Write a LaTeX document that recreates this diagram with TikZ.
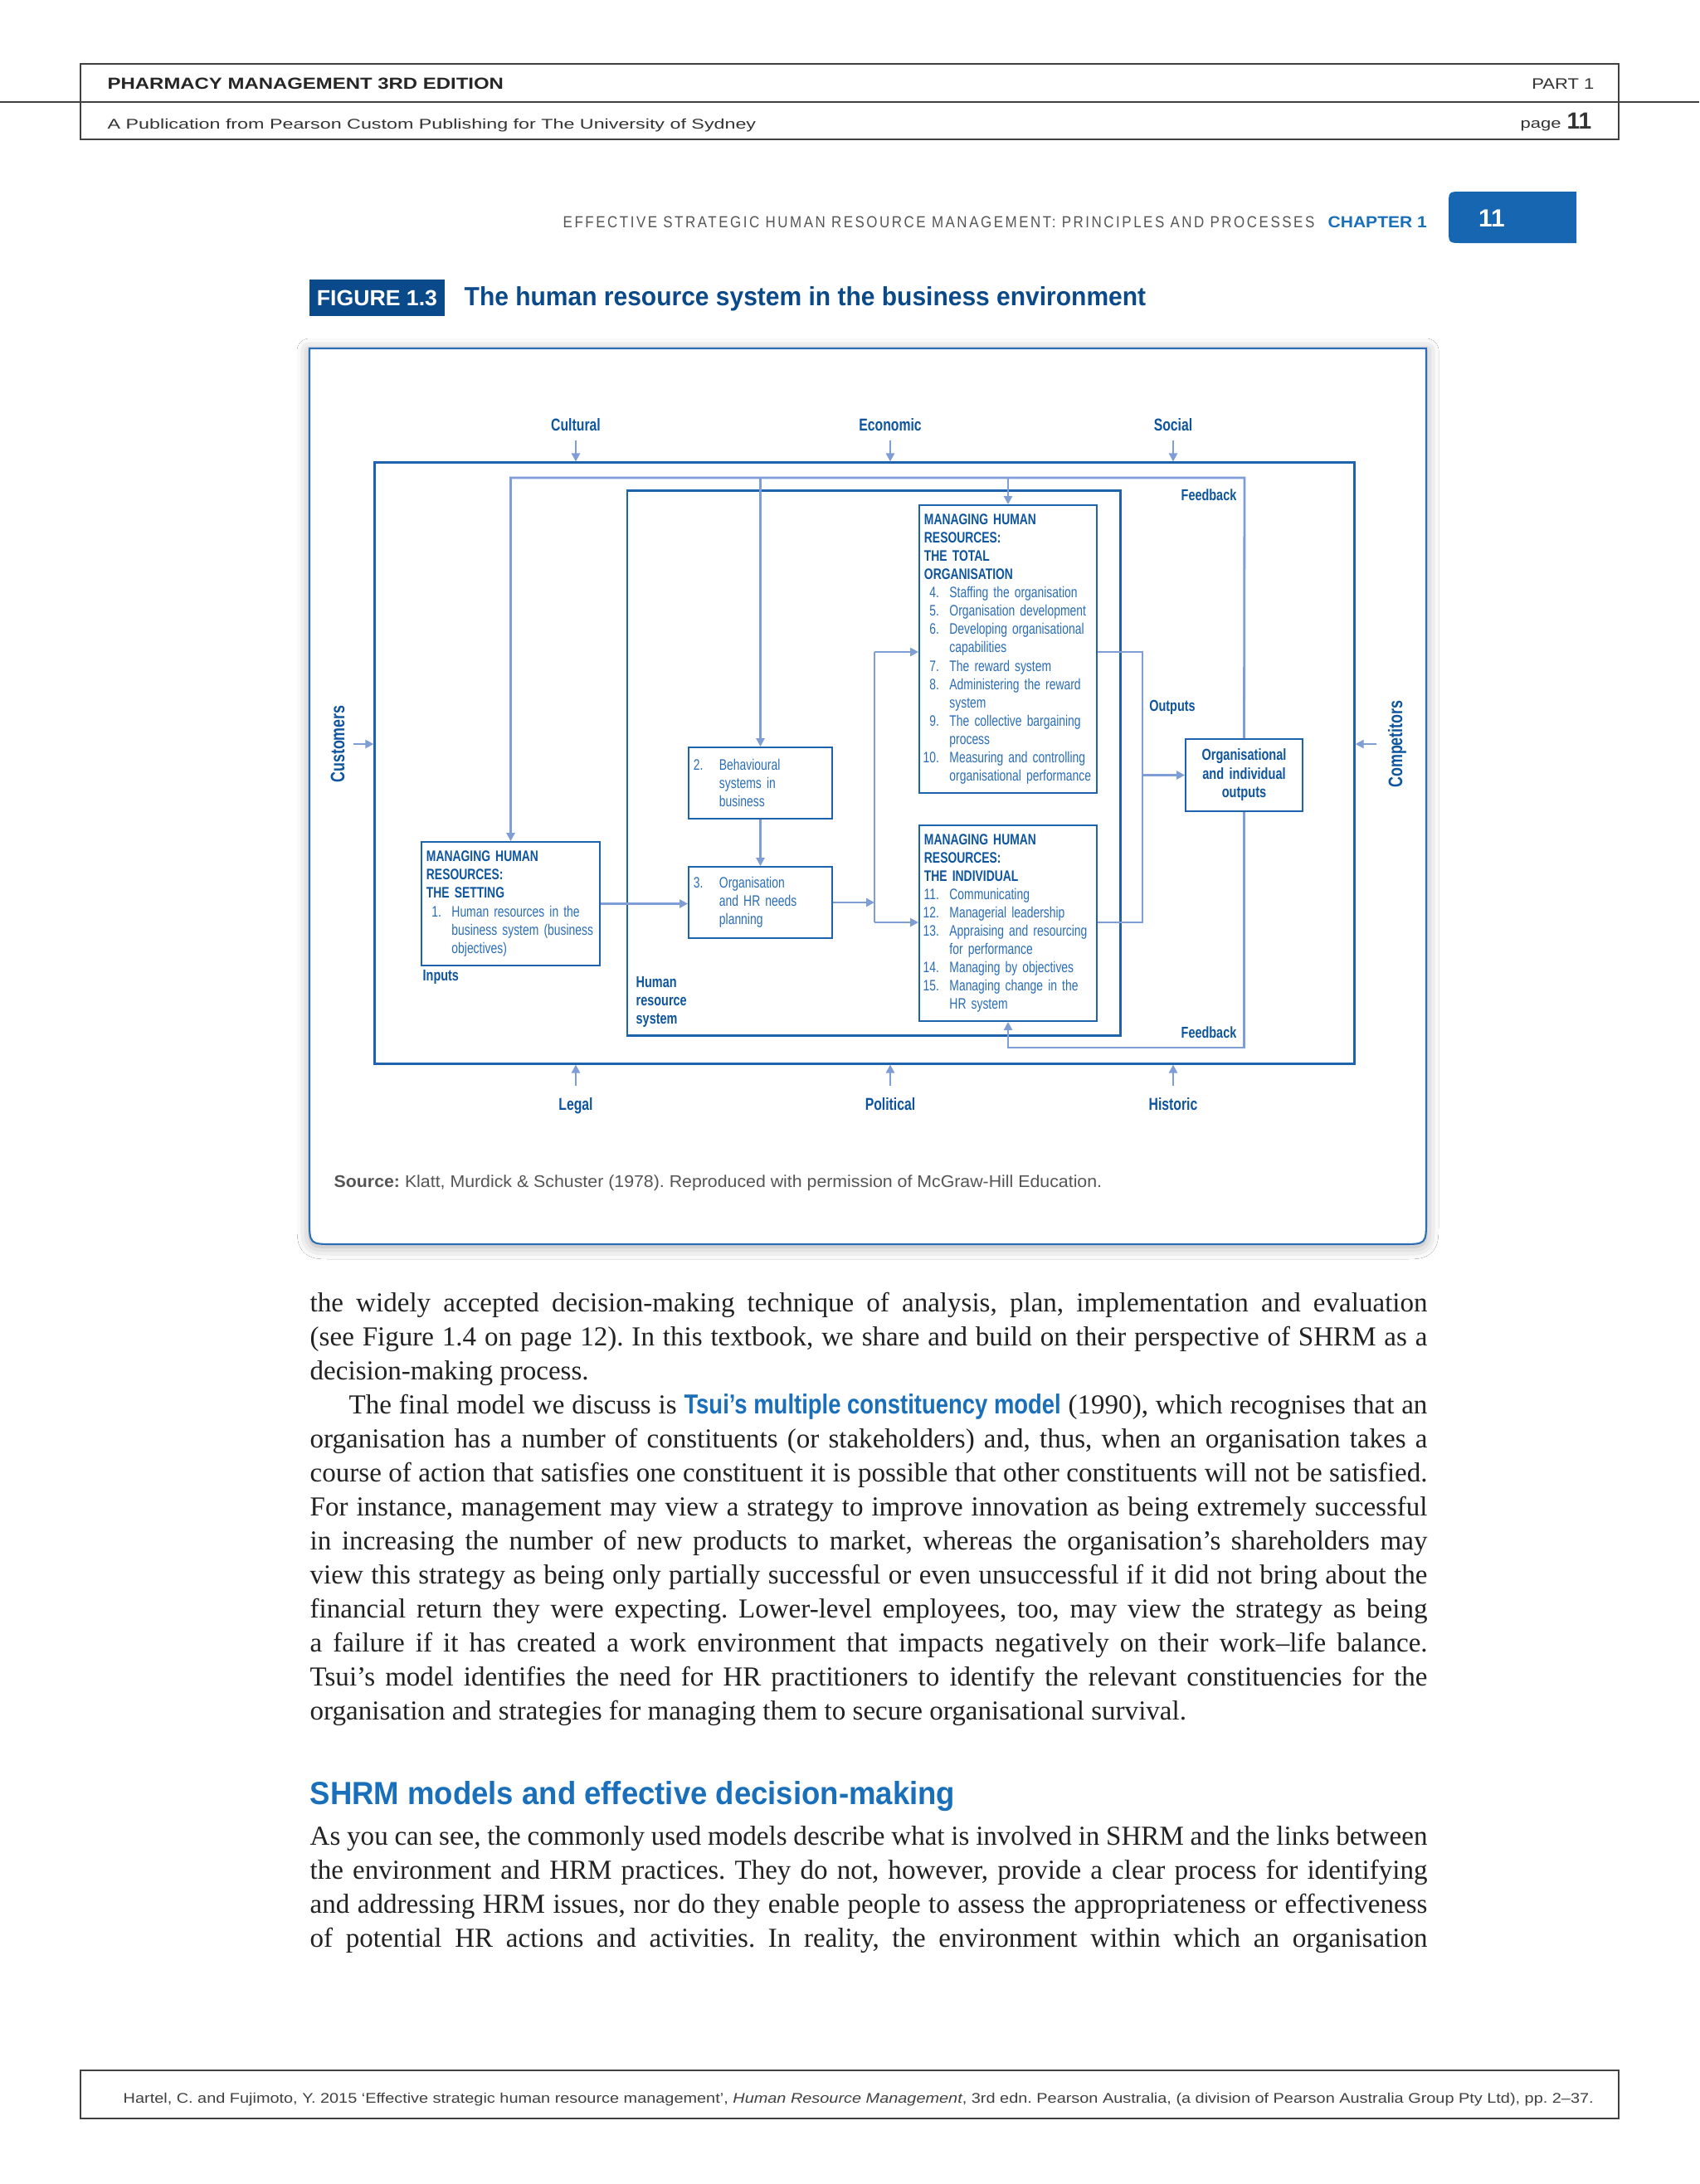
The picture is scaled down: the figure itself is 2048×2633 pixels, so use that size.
\documentclass[tikz,border=0pt]{standalone}
\usepackage{fontspec}
\usepackage{graphicx}
\usetikzlibrary{arrows.meta,shadows.blur}
\setmainfont{Liberation Serif}[WordSpace={1,1,2}]
\newfontfamily\hfont{Liberation Sans}
\newfontfamily\dfont{Liberation Sans}[FakeStretch=0.76]
\newfontfamily\lsfont{Liberation Sans}[FakeStretch=0.8,LetterSpace=12]

\definecolor{boxblue}{HTML}{1E63AE}
\definecolor{arrowblue}{HTML}{7F9ED6}
\definecolor{titleblue}{HTML}{0E559E}
\definecolor{itemblue}{HTML}{2A6DB6}
\definecolor{frameblue}{HTML}{2C6EB5}
\definecolor{tabblue}{HTML}{1666B1}
\definecolor{figblue}{HTML}{0B4A8A}
\definecolor{headblue}{HTML}{1A6FBA}
\definecolor{greytext}{HTML}{555555}
\definecolor{bodyblack}{HTML}{222222}

\newcommand{\fitw}[2]{\resizebox{#1}{\height}{#2}}
\newcommand{\ttl}[1]{\textcolor{titleblue}{\bfseries #1}}
\newcommand{\itm}[1]{\makebox[0.18cm][r]{#1}\hspace{0.125cm}}
\newcommand{\itl}[1]{\makebox[0.31cm][l]{#1}}

\tolerance=10000
\hyphenpenalty=10000
\exhyphenpenalty=10000
\frenchspacing

\tikzset{
  hrbox/.style={draw=boxblue, line width=0.5pt, fill=white, inner xsep=0.06cm, inner ysep=0pt,
    align=left, text=itemblue, font=\dfont\fontsize{5.2}{6.26}\selectfont},
  envbox/.style={draw=boxblue, line width=0.75pt, inner sep=0pt},
  fb/.style={draw=arrowblue, line width=0.8pt},
  tohead/.style={-{Triangle[length=0.1cm,width=0.1cm]}},
  envlbl/.style={inner sep=0pt, text=titleblue, text height=1.6mm, text depth=0.4mm,
    font=\dfont\bfseries\fontsize{5.9}{7}\selectfont},
  sidelbl/.style={inner sep=0pt, rotate=90, text=titleblue, text height=1.8mm, text depth=0mm,
    font=\dfont\bfseries\fontsize{6.7}{8}\selectfont},
  lbl/.style={inner sep=0pt, text=titleblue, align=left, font=\dfont\bfseries\fontsize{5.4}{6.26}\selectfont},
  bodytxt/.style={inner sep=0pt, text width=13.46cm, align=justify, text=bodyblack,
    font=\fontsize{9.4}{11.67}\selectfont},
  hdrline/.style={draw=black!75, line width=0.45pt},
}

\begin{document}
\begin{tikzpicture}[x=0.01cm,y=-0.01cm]
\fill[white] (0,0) rectangle (2048,2633);
\useasboundingbox (0,0) rectangle (2048,2633);

% running head
\draw[hdrline] (97,77) rectangle (1951,168);
\draw[hdrline] (0,123) -- (2048,123);
\node[inner sep=0pt, anchor=base west, text=black!85] (book) at (129,107)
  {\fitw{4.77cm}{\hfont\bfseries\fontsize{5.5}{6}\selectfont PHARMACY MANAGEMENT 3RD EDITION}};
\node[inner sep=0pt, anchor=base east, text=black!80] (part) at (1922,107)
  {\fitw{0.75cm}{\hfont\fontsize{5.2}{6}\selectfont PART 1}};
\node[inner sep=0pt, anchor=base west, text=black!80] (publ) at (129,155)
  {\fitw{7.81cm}{\hfont\fontsize{4.8}{6}\selectfont A Publication from Pearson Custom Publishing for The University of Sydney}};
\node[inner sep=0pt, anchor=base east, text=black!80] (pageno) at (1919,155)
  {\fitw{0.49cm}{\hfont\fontsize{4.8}{6}\selectfont page}\hspace{0.07cm}{\hfont\bfseries\fontsize{8}{9}\selectfont 11}};

% chapter line
\node[inner sep=0pt, anchor=base west, text=greytext] (chap) at (678,274)
  {\fitw{9.05cm}{\lsfont\fontsize{5.5}{6}\selectfont EFFECTIVE STRATEGIC HUMAN RESOURCE MANAGEMENT: PRINCIPLES AND PROCESSES}};
\node[inner sep=0pt, anchor=base west, text=headblue] (chapno) at (1600,274)
  {\fitw{1.19cm}{\hfont\bfseries\fontsize{5.5}{6}\selectfont CHAPTER 1}};
\fill[tabblue] (1900,231) -- (1762,231) .. controls (1746,231) .. (1746,247) -- (1746,277)
  .. controls (1746,293) .. (1762,293) -- (1900,293) -- cycle;
\node[inner sep=0pt, anchor=base, text=white] (tabno) at (1798,273)
  {\hfont\bfseries\fontsize{8.5}{9}\selectfont 11};

% figure caption
\node[fill=figblue, minimum width=1.63cm, minimum height=0.44cm, inner sep=0pt, text=white] (figno) at (454.5,359)
  {\fitw{1.45cm}{\hfont\bfseries\fontsize{7.5}{8}\selectfont FIGURE 1.3}};
\node[inner sep=0pt, anchor=base west, text=figblue] (figtitle) at (559,368)
  {\fitw{8.21cm}{\hfont\bfseries\fontsize{9}{10}\selectfont The human resource system in the business environment}};

% figure frame
\draw[draw=frameblue, line width=0.6pt, fill=white,
  blur shadow={shadow xshift=0pt, shadow yshift=-0.03cm, shadow blur radius=0.15cm, shadow opacity=35}]
  (1719,420) -- (373,420) -- (373,1470) .. controls (373,1500) .. (403,1500) -- (1689,1500)
  .. controls (1719,1500) .. (1719,1470) -- cycle;

% environment and system boxes
\node[envbox, minimum width=11.8cm, minimum height=7.24cm] (env) at (1042,920) {};
\node[envbox, minimum width=5.94cm, minimum height=6.56cm] (hrsys) at (1053,920) {};

% environment labels
\node[envlbl] (cultural) at (694,513) {Cultural};
\node[envlbl] (economic) at (1073,513) {Economic};
\node[envlbl] (social) at (1414,513) {Social};
\node[envlbl] (legal) at (694,1332) {Legal};
\node[envlbl] (political) at (1073,1332) {Political};
\node[envlbl] (historic) at (1414,1332) {Historic};
\node[sidelbl] (customers) at (406,897) {Customers};
\node[sidelbl] (competitors) at (1681,897) {Competitors};

% the boxes
\node[hrbox, minimum width=2.15cm, minimum height=1.49cm, text width=2.03cm] (setting) at (615.5,1089.5)
  {\ttl{MANAGING HUMAN}\\ \ttl{RESOURCES:}\\ \ttl{THE SETTING}\\
   \itm{1.}Human resources in the\\ \itm{}business system (business\\ \itm{}objectives)};
\node[hrbox, minimum width=1.73cm, minimum height=0.86cm, text width=1.61cm] (box2) at (916.5,944)
  {\itl{2.}Behavioural\\ \itl{}systems in\\ \itl{}business};
\node[hrbox, minimum width=1.73cm, minimum height=0.86cm, text width=1.61cm] (box3) at (916.5,1088)
  {\itl{3.}Organisation\\ \itl{}and HR needs\\ \itl{}planning};
\node[hrbox, minimum width=2.14cm, minimum height=3.47cm, text width=2.02cm] (total) at (1215,782.5)
  {\ttl{MANAGING HUMAN}\\ \ttl{RESOURCES:}\\ \ttl{THE TOTAL}\\ \ttl{ORGANISATION}\\
   \itm{4.}Staffing the organisation\\ \itm{5.}Organisation development\\
   \itm{6.}Developing organisational\\ \itm{}capabilities\\ \itm{7.}The reward system\\
   \itm{8.}Administering the reward\\ \itm{}system\\ \itm{9.}The collective bargaining\\
   \itm{}process\\ \itm{10.}Measuring and controlling\\ \itm{}organisational performance};
\node[hrbox, minimum width=2.14cm, minimum height=2.36cm, text width=2.02cm] (indiv) at (1215,1113)
  {\ttl{MANAGING HUMAN}\\ \ttl{RESOURCES:}\\ \ttl{THE INDIVIDUAL}\\
   \itm{11.}Communicating\\ \itm{12.}Managerial leadership\\ \itm{13.}Appraising and resourcing\\
   \itm{}for performance\\ \itm{14.}Managing by objectives\\ \itm{15.}Managing change in the\\
   \itm{}HR system};
\node[hrbox, align=center, minimum width=1.41cm, minimum height=0.87cm, text width=1.29cm,
  text=titleblue, font=\dfont\bfseries\fontsize{5.45}{6.4}\selectfont] (org) at (1499.5,934.5)
  {Organisational\\ and individual\\ outputs};

% small labels
\node[lbl, anchor=east] (fbtxt) at (1491,597) {Feedback};
\node[lbl, anchor=east] (fbtxtlow) at (1491,1245) {Feedback};
\node[lbl] (outtxt) at (1413,853) {Outputs};
\node[lbl, anchor=west] (intxt) at (509,1178) {Inputs};
\node[lbl, anchor=west] (hrtxt) at (766,1208) {Human\\ resource\\ system};

% connectors
\coordinate (fbtop) at (1500,576);
\coordinate (fbbot) at (1215,1263);
\coordinate (split) at (1054,786);
\coordinate (splitlow) at (1054,1112);
\coordinate (outhi) at (1377,786);
\coordinate (outlow) at (1377,1112);
\draw[fb,tohead] (org.north) -- (fbtop) -| (setting.north);
\draw[fb,tohead] (box2.north |- fbtop) -- (box2.north);
\draw[fb,tohead] (total.north |- fbtop) -- (total.north);
\draw[fb,tohead] (org.south) |- (fbbot) -- (indiv.south);
\draw[fb,tohead] (box2.south) -- (box3.north);
\draw[fb,tohead] (setting.east) -- (setting.east -| box3.west);
\draw[fb,tohead] (box3.east) -- (box3.east -| split);
\draw[fb] (split) -- (splitlow);
\draw[fb,tohead] (split) -- (split -| total.west);
\draw[fb,tohead] (splitlow) -- (splitlow -| indiv.west);
\draw[fb] (total.east |- outhi) -- (outhi) -- (outlow) -- (outlow -| indiv.east);
\draw[fb,tohead] (outhi |- org.west) -- (org.west);

\draw[fb,tohead,shorten <=0.07cm] (cultural.south) -- (cultural.south |- env.north);
\draw[fb,tohead,shorten <=0.07cm] (economic.south) -- (economic.south |- env.north);
\draw[fb,tohead,shorten <=0.07cm] (social.south) -- (social.south |- env.north);
\draw[fb,tohead,shorten <=0.12cm] (legal.north) -- (legal.north |- env.south);
\draw[fb,tohead,shorten <=0.12cm] (political.north) -- (political.north |- env.south);
\draw[fb,tohead,shorten <=0.12cm] (historic.north) -- (historic.north |- env.south);
\draw[fb,tohead,shorten <=0.1cm] (customers.south) -- (customers.south -| env.west);
\draw[fb,tohead,shorten <=0.12cm] (competitors.north) -- (competitors.north -| env.east);

% source line
\node[inner sep=0pt, anchor=base west, text=greytext] (source) at (402,1431)
  {\fitw{9.25cm}{\hfont\fontsize{5.8}{7}\selectfont\textbf{Source:} Klatt, Murdick \& Schuster (1978). Reproduced with permission of McGraw-Hill Education.}};

% body text
\node[bodytxt, anchor=north west] (para1) at (373,1557)
  {the widely accepted decision-making technique of analysis, plan, implementation and evaluation\linebreak
  (see Figure 1.4 on page 12). In this textbook, we share and build on their perspective of SHRM as a\linebreak
  decision-making process.\par
  \hspace*{0.47cm}The final model we discuss is \fitw{4.54cm}{\hfont\bfseries\color{headblue}Tsui’s multiple constituency model} (1990), which recognises that an\linebreak
  organisation has a number of constituents (or stakeholders) and, thus, when an organisation takes a\linebreak
  course of action that satisfies one constituent it is possible that other constituents will not be satisfied.\linebreak
  For instance, management may view a strategy to improve innovation as being extremely successful\linebreak
  in increasing the number of new products to market, whereas the organisation’s shareholders may\linebreak
  view this strategy as being only partially successful or even unsuccessful if it did not bring about the\linebreak
  financial return they were expecting. Lower-level employees, too, may view the strategy as being\linebreak
  a failure if it has created a work environment that impacts negatively on their work–life balance.\linebreak
  Tsui’s model identifies the need for HR practitioners to identify the relevant constituencies for the\linebreak
  organisation and strategies for managing them to secure organisational survival.};

\node[inner sep=0pt, anchor=base west, text=headblue] (heading) at (373,2175)
  {\fitw{7.77cm}{\hfont\bfseries\fontsize{11}{13}\selectfont SHRM models and effective decision-making}};

\node[bodytxt, anchor=north west] (para3) at (373,2201)
  {As you can see, the commonly used models describe what is involved in SHRM and the links between\linebreak
  the environment and HRM practices. They do not, however, provide a clear process for identifying\linebreak
  and addressing HRM issues, nor do they enable people to assess the appropriateness or effectiveness\linebreak
  of potential HR actions and activities. In reality, the environment within which an organisation\parfillskip=0pt\par};

% footer
\draw[hdrline] (97,2496) rectangle (1951,2554);
\node[inner sep=0pt, anchor=base west, text=black!75] (cite) at (148,2535)
  {\fitw{17.71cm}{\hfont\fontsize{4.8}{6}\selectfont Hartel, C. and Fujimoto, Y. 2015 ‘Effective strategic human resource management’, \textit{Human Resource Management}, 3rd edn. Pearson Australia, (a division of Pearson Australia Group Pty Ltd), pp. 2–37.}};
\end{tikzpicture}
\end{document}
